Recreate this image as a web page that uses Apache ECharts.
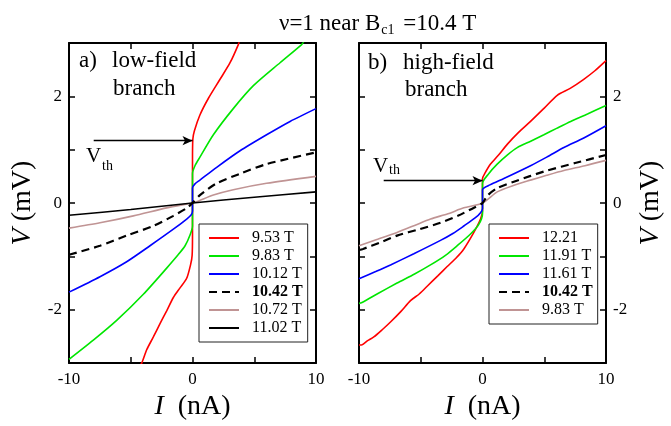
<!DOCTYPE html>
<html>
<head>
<meta charset="utf-8">
<script src="https://cdn.jsdelivr.net/npm/echarts@6/dist/echarts.min.js"></script>
<style>html,body{margin:0;padding:0;background:#fff}#c{width:671px;height:426px}</style>
</head>
<body>
<div id="c"></div>
<script>
// ---------- data (I in nA, V in mV) ----------
var xTicks = [-10, 0, 10];
var yTicks = [-2, 0, 2];

// panel a) low-field branch
var leftNames = ['9.53 T', '9.83 T', '10.12 T', '10.42 T', '10.72 T', '11.02 T'];
var a953 = [[-4.3,-3.05],[-4.11,-3.0],[-3.71,-2.75],[-3.17,-2.51],[-2.63,-2.26],[-2.09,-2.02],[-1.55,-1.77],[-1.01,-1.59],[-0.47,-1.41],[-0.15,-1.15],[-0.03,-0.98],[0,-0.6],[0,0],[0,0.8],[0.03,1.2],[0.15,1.35],[0.6,1.65],[1.28,1.96],[2.23,2.32],[3.04,2.63],[3.71,2.97],[3.8,3.05]];
var a983 = [[-10,-2.93],[-8.03,-2.57],[-6.14,-2.2],[-3.98,-1.71],[-2.09,-1.22],[-1.2,-0.98],[-0.6,-0.8],[-0.2,-0.6],[0,-0.43],[0,0],[0,0.55],[0.2,0.7],[0.6,0.86],[1.69,1.28],[3.3,1.77],[4.93,2.2],[7.09,2.63],[8.84,2.97],[9.0,3.02]];
var a1012 = [[-10,-1.67],[-7.49,-1.38],[-5.33,-1.1],[-3.44,-0.8],[-1.55,-0.49],[-0.47,-0.3],[-0.1,-0.22],[0,-0.15],[0,0],[0,0.28],[0.2,0.36],[0.6,0.43],[1.96,0.67],[3.85,0.98],[6.0,1.28],[7.9,1.53],[10,1.77]];
var a1042 = [[-10,-0.97],[-7.49,-0.8],[-5.33,-0.61],[-3.17,-0.43],[-1.55,-0.24],[-0.5,-0.1],[0,0],[0.6,0.15],[1.96,0.37],[3.85,0.55],[6.0,0.73],[10,0.95]];
var a1072 = [[-10,-0.47],[-7.49,-0.37],[-4.79,-0.24],[-2.09,-0.09],[-0.5,-0.02],[0,0],[0.5,0.04],[1.69,0.15],[3.3,0.25],[6.0,0.37],[10,0.5]];
var a1102 = [[-10,-0.23],[-5,-0.12],[0,0],[5,0.11],[10,0.21]];

// panel b) high-field branch
var rightNames = ['12.21', '11.91 T', '11.61 T', '10.42 T', '9.83 T'];
var b1221 = [[-10,-2.66],[-9.8,-2.66],[-9.3,-2.58],[-8.8,-2.51],[-8.1,-2.37],[-7.45,-2.23],[-6.6,-2.03],[-5.83,-1.83],[-5.1,-1.7],[-4.48,-1.56],[-3.6,-1.36],[-2.86,-1.19],[-2.1,-1.02],[-1.51,-0.86],[-0.7,-0.55],[-0.16,-0.3],[0,-0.15],[0,0],[0,0.46],[0.2,0.56],[0.65,0.73],[1.3,0.9],[2.0,1.1],[2.9,1.32],[3.89,1.53],[5.0,1.78],[6.05,2.02],[7.1,2.15],[8.2,2.32],[9.1,2.48],[10,2.67]];
var b1191 = [[-10,-1.88],[-9.8,-1.87],[-8.5,-1.7],[-6.92,-1.5],[-5.5,-1.33],[-4.21,-1.16],[-3.0,-0.98],[-2.05,-0.8],[-0.97,-0.58],[-0.3,-0.4],[0,-0.2],[0,0],[0,0.37],[0.5,0.55],[1.19,0.73],[2.0,0.9],[2.81,1.04],[3.9,1.16],[4.97,1.28],[6.0,1.4],[7.14,1.53],[8.5,1.67],[10,1.83]];
var b1161 = [[-10,-1.42],[-8.6,-1.28],[-7.45,-1.16],[-5.56,-0.95],[-3.4,-0.7],[-2.4,-0.57],[-1.51,-0.43],[-0.6,-0.28],[-0.16,-0.18],[0,-0.1],[0,0],[0,0.25],[0.6,0.34],[1.73,0.46],[3.89,0.7],[5.2,0.86],[6.59,1.04],[8.2,1.22],[10,1.45]];
var b1042 = [[-10,-0.88],[-9.67,-0.86],[-8.3,-0.74],[-6.92,-0.61],[-5.1,-0.49],[-3.4,-0.37],[-2.0,-0.24],[-0.97,-0.12],[0,0],[0.4,0.14],[1.2,0.28],[2.54,0.4],[3.9,0.51],[5.24,0.61],[7.5,0.75],[10,0.9]];
var b983 = [[-10,-0.8],[-8.5,-0.68],[-6.92,-0.55],[-5.5,-0.42],[-4.21,-0.3],[-2.8,-0.2],[-1.51,-0.09],[0,0],[1.19,0.21],[2.5,0.33],[3.89,0.43],[5.2,0.52],[6.59,0.61],[8.3,0.7],[10,0.8]];

// threshold arrows
var vthLeft = [[-8.0, 1.17], [0, 1.17]];
var vthRight = [[-8.0, 0.42], [0, 0.42]];

// ---------- chart ----------
var FONT = 'Liberation Serif';
var chart = echarts.init(document.getElementById('c'), null, {renderer: 'canvas'});

function xAx(grid, top) {
  return {
    type: 'value', gridIndex: grid, position: top ? 'top' : 'bottom',
    min: -10, max: 10, interval: 5,
    axisLine: {show: true, onZero: false, lineStyle: {color: '#000', width: 2}},
    axisTick: {show: true, inside: true, length: 6, lineStyle: {color: '#000', width: 1.5}},
    axisLabel: {show: !top, margin: 8, color: '#000', fontFamily: FONT, fontSize: 17,
      formatter: function (v) { return xTicks.indexOf(v) >= 0 ? String(v) : ''; }},
    splitLine: {show: false},
    name: top ? '' : '{i|I}  (nA)', nameLocation: 'middle', nameGap: 28,
    nameTextStyle: {color: '#000', fontFamily: FONT, fontSize: 28,
      rich: {i: {fontStyle: 'italic', fontFamily: FONT, fontSize: 28, color: '#000'}}}
  };
}
function yAx(grid, right, labels) {
  return {
    type: 'value', gridIndex: grid, position: right ? 'right' : 'left',
    min: -3, max: 3, interval: 1,
    axisLine: {show: true, onZero: false, lineStyle: {color: '#000', width: 2}},
    axisTick: {show: true, inside: true, length: 6, lineStyle: {color: '#000', width: 1.5}},
    axisLabel: {show: labels, margin: 7, color: '#000', fontFamily: FONT, fontSize: 17,
      formatter: function (v) { return yTicks.indexOf(v) >= 0 ? String(v) : ''; }},
    splitLine: {show: false},
    name: labels ? '{i|V} (mV)' : '', nameLocation: 'middle', nameRotate: 90,
    nameGap: right ? 31 : 32,
    nameTextStyle: {color: '#000', fontFamily: FONT, fontSize: 28,
      rich: {i: {fontStyle: 'italic', fontFamily: FONT, fontSize: 28, color: '#000'}}}
  };
}
function ser(name, data, color, xi, yi, dashed, extra) {
  var s = {
    name: name, type: 'line', data: data, xAxisIndex: xi, yAxisIndex: yi,
    symbol: 'none', smooth: 0.25, animation: false,
    lineStyle: {color: color, width: dashed ? 2.2 : 1.6, type: dashed ? [8, 5] : 'solid'},
    itemStyle: {color: color}, z: dashed ? 3 : 2
  };
  if (extra) s.markLine = extra;
  return s;
}
function arrow(seg) {
  return {
    silent: true, animation: false, symbol: ['none', 'arrow'], symbolSize: [7, 10],
    lineStyle: {color: '#000', width: 1.3, type: 'solid'}, label: {show: false},
    data: [[{coord: seg[0]}, {coord: seg[1]}]]
  };
}
function legendFmt(name) {
  var n = name.replace(/^b:/, '');
  return n.indexOf('10.42') === 0 ? '{b|' + n + '}' : '{r|' + n + '}';
}
function legend(names, left, top) {
  return {
    data: names, left: left, top: top, orient: 'vertical', selectedMode: false,
    backgroundColor: '#fff', borderColor: '#222', borderWidth: 1,
    padding: [6, 5, 6, 9], itemWidth: 30, itemHeight: 14, itemGap: 2,
    itemStyle: {opacity: 0},
    formatter: legendFmt,
    textStyle: {color: '#000', fontFamily: FONT, fontSize: 16, lineHeight: 14,
      rich: {r: {fontFamily: FONT, fontSize: 16, lineHeight: 14, color: '#000', padding: [0, 0, 0, 8]},
             b: {fontFamily: FONT, fontSize: 16, lineHeight: 14, fontWeight: 'bold', color: '#000', padding: [0, 0, 0, 8]}}}
  };
}

var RED = '#ff0000', GREEN = '#00e600', BLUE = '#0000ff', BLACK = '#000000', BROWN = '#c09494';
var bNames = rightNames.map(function (n) { return 'b:' + n; });

var option = {
  animation: false,
  backgroundColor: '#fff',
  textStyle: {fontFamily: FONT},
  title: {
    text: '{a|ν=1 near B}{s|c1}{a| =10.4 T}', left: 274, top: 2,
    textStyle: {fontWeight: 'normal', rich: {
      a: {fontFamily: FONT, fontSize: 23, fontWeight: 'normal', color: '#000', lineHeight: 30, verticalAlign: 'bottom', padding: [0, 0, 2, 0]},
      s: {fontFamily: FONT, fontSize: 14, fontWeight: 'normal', color: '#000', lineHeight: 14, verticalAlign: 'bottom', padding: [0, 3, 0, 1]}
    }}
  },
  grid: [
    {left: 69, top: 43, width: 247, height: 328, containLabel: false},
    {left: 359, top: 43, width: 247, height: 328, containLabel: false}
  ],
  xAxis: [xAx(0, false), xAx(0, true), xAx(1, false), xAx(1, true)],
  yAxis: [yAx(0, false, true), yAx(0, true, false), yAx(1, false, false), yAx(1, true, true)],
  legend: [legend(leftNames, 199, 224), legend(bNames, 489, 224)],
  series: [
    ser(leftNames[0], a953, RED, 0, 0, false),
    ser(leftNames[1], a983, GREEN, 0, 0, false),
    ser(leftNames[2], a1012, BLUE, 0, 0, false),
    ser(leftNames[3], a1042, BLACK, 0, 0, true),
    ser(leftNames[4], a1072, BROWN, 0, 0, false),
    ser(leftNames[5], a1102, BLACK, 0, 0, false, arrow(vthLeft)),
    ser(bNames[0], b1221, RED, 2, 2, false),
    ser(bNames[1], b1191, GREEN, 2, 2, false),
    ser(bNames[2], b1161, BLUE, 2, 2, false),
    ser(bNames[3], b1042, BLACK, 2, 2, true),
    ser(bNames[4], b983, BROWN, 2, 2, false, arrow(vthRight))
  ],
  graphic: [
    {type: 'text', left: 79, top: 49, style: {text: 'a)', font: '23px "Liberation Serif"', fill: '#000'}},
    {type: 'text', left: 112, top: 49, style: {text: 'low-field', font: '23px "Liberation Serif"', fill: '#000'}},
    {type: 'text', left: 113, top: 77, style: {text: 'branch', font: '23px "Liberation Serif"', fill: '#000'}},
    {type: 'text', left: 368, top: 51, style: {text: 'b)', font: '23px "Liberation Serif"', fill: '#000'}},
    {type: 'text', left: 403, top: 51, style: {text: 'high-field', font: '23px "Liberation Serif"', fill: '#000'}},
    {type: 'text', left: 405, top: 78, style: {text: 'branch', font: '23px "Liberation Serif"', fill: '#000'}},
    {type: 'text', left: 86, top: 146, style: {text: 'V', font: '21px "Liberation Serif"', fill: '#000'}},
    {type: 'text', left: 102, top: 159, style: {text: 'th', font: '14px "Liberation Serif"', fill: '#000'}},
    {type: 'text', left: 373, top: 156, style: {text: 'V', font: '21px "Liberation Serif"', fill: '#000'}},
    {type: 'text', left: 389, top: 163, style: {text: 'th', font: '14px "Liberation Serif"', fill: '#000'}}
  ]
};
chart.setOption(option);
</script>
</body>
</html>
